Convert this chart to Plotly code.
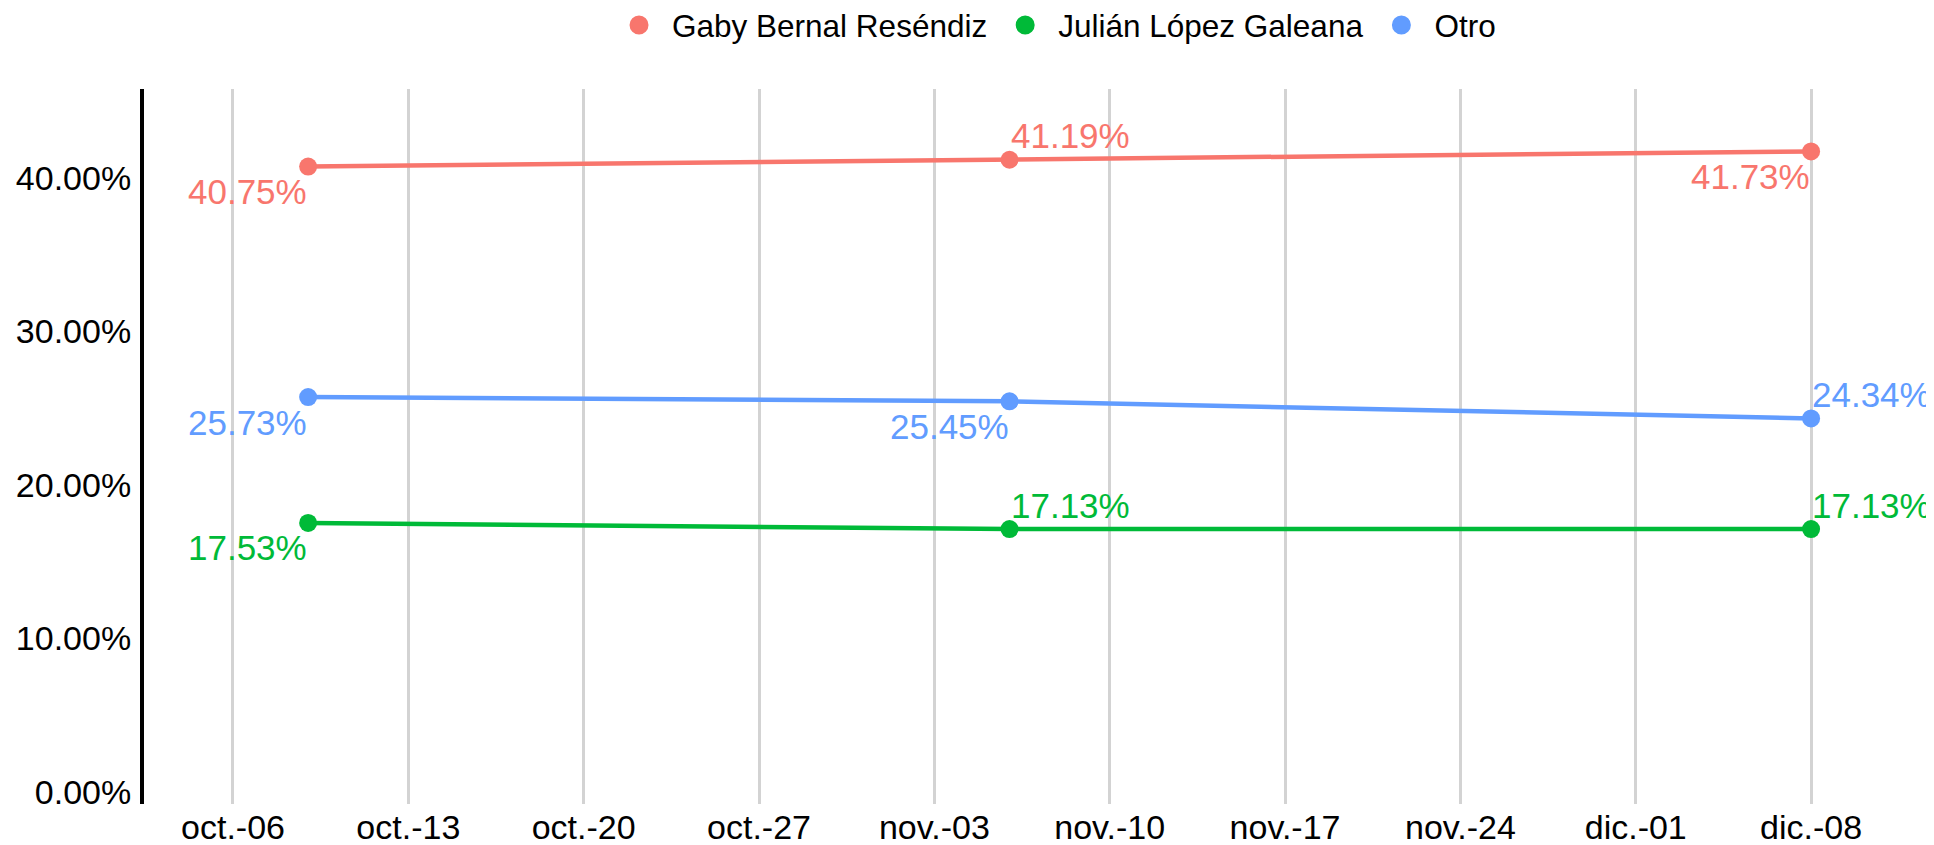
import plotly.graph_objects as go

# ---- data ----
dates = ["2024-10-09", "2024-11-06", "2024-12-08"]
series_names = ["Gaby Bernal Reséndiz", "Julián López Galeana", "Otro"]
gaby = [0.4075, 0.4119, 0.4173]
julian = [0.1753, 0.1713, 0.1713]
otro = [0.2573, 0.2545, 0.2434]
colors = ["#F8766D", "#00BA38", "#619CFF"]
# label placement per point: bl = below-left, tr = above-right
gaby_pos = ["bl", "tr", "bl"]
julian_pos = ["bl", "tr", "tr"]
otro_pos = ["bl", "bl", "tr"]

tick_dates = ["2024-10-06", "2024-10-13", "2024-10-20", "2024-10-27", "2024-11-03",
              "2024-11-10", "2024-11-17", "2024-11-24", "2024-12-01", "2024-12-08"]
tick_labels = ["oct.-06", "oct.-13", "oct.-20", "oct.-27", "nov.-03",
               "nov.-10", "nov.-17", "nov.-24", "dic.-01", "dic.-08"]
y_ticks = [0, 0.1, 0.2, 0.3, 0.4]

FONT = "Liberation Sans, Arial, sans-serif"
FS_TICK = 34
FS_LABEL = 35
FS_LEGEND = 31.5

fig = go.Figure()
annotations = []
for name, vals, col, pos in zip(series_names, [gaby, julian, otro], colors,
                                [gaby_pos, julian_pos, otro_pos]):
    fig.add_trace(go.Scatter(
        x=dates, y=vals, name=name, mode="lines+markers",
        line=dict(color=col, width=4.5),
        marker=dict(color=col, size=18),
        cliponaxis=False, showlegend=False,
    ))
    # legend entry: circle only
    fig.add_trace(go.Scatter(
        x=[None], y=[None], name=name, mode="markers",
        marker=dict(color=col, size=16, line=dict(color=col, width=3)),
        showlegend=True,
    ))
    for d, v, p in zip(dates, vals, pos):
        if p == "bl":
            xa, ya, ys = "right", "top", -4.5
        else:
            xa, ya, ys = "left", "bottom", 3.5
        annotations.append(dict(
            x=d, y=v, xref="x", yref="y", text=f"{v*100:.2f}%",
            showarrow=False, xanchor=xa, yanchor=ya, yshift=ys,
            borderpad=0,
            font=dict(family=FONT, size=FS_LABEL, color=col),
        ))

fig.update_layout(
    width=1926, height=837,
    margin=dict(l=136, r=44, t=81, b=41, autoexpand=False),
    paper_bgcolor="white", plot_bgcolor="white",
    font=dict(family=FONT, size=FS_TICK, color="black"),
    annotations=annotations,
    showlegend=True,
    legend=dict(
        orientation="h", xref="container", yref="container",
        x=0.3105, xanchor="left", y=0.9797, yanchor="middle",
        font=dict(family=FONT, size=FS_LEGEND, color="black"),
        itemwidth=56, itemsizing="trace",
    ),
    xaxis=dict(
        type="date", automargin=False,
        range=["2024-10-02 10:44", "2024-12-11 03:36"],
        tickmode="array", tickvals=tick_dates, ticktext=tick_labels,
        showgrid=True, gridcolor="#d3d3d3", gridwidth=3,
        showline=False, zeroline=False, ticks="", ticklabelstandoff=0,
        tickfont=dict(family=FONT, size=FS_TICK, color="black"),
    ),
    yaxis=dict(
        range=[-0.0078, 0.458], automargin=False,
        tickmode="array", tickvals=y_ticks, tickformat=".2%",
        showgrid=False, zeroline=False,
        showline=True, linecolor="black", linewidth=4,
        ticks="", ticklabelstandoff=2,
        tickfont=dict(family=FONT, size=FS_TICK, color="black"),
    ),
)

fig.write_html("out.html")
